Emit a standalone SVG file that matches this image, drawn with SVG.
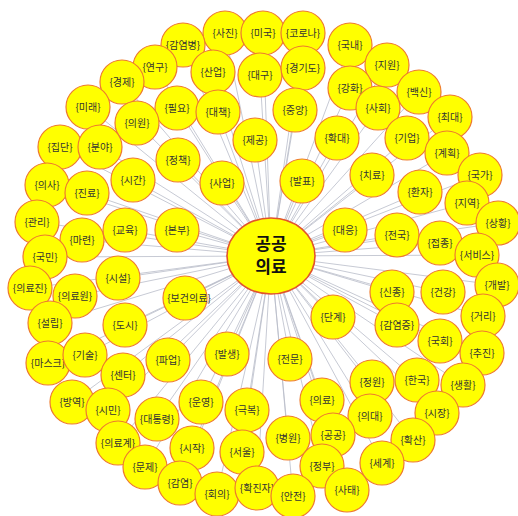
<svg xmlns="http://www.w3.org/2000/svg" width="518" height="516" viewBox="0 0 518 516">
<style>
.e{stroke:#b9bdc9;stroke-width:0.8}
.n circle{fill:#ffff00;stroke:#ee7a2e;stroke-width:1.2}
.n text{font-family:"Noto Sans CJK KR","Noto Sans",sans-serif;font-size:10px;fill:#333;text-anchor:middle}
.c ellipse{fill:#ffff00;stroke:#e2542a;stroke-width:1.6}
.c text{font-family:"Noto Sans CJK KR","Noto Sans",sans-serif;font-size:17px;font-weight:bold;fill:#111;text-anchor:middle}
</style>
<rect width="518" height="516" fill="#ffffff"/>
<g id="connectors">
<line class="e" x1="271" y1="256" x2="225" y2="33"/><line class="e" x1="271" y1="256" x2="263" y2="33"/><line class="e" x1="271" y1="256" x2="303" y2="33"/><line class="e" x1="271" y1="256" x2="183" y2="45"/><line class="e" x1="271" y1="256" x2="350" y2="45"/><line class="e" x1="271" y1="256" x2="155" y2="67"/><line class="e" x1="271" y1="256" x2="387" y2="65"/><line class="e" x1="271" y1="256" x2="122" y2="82"/><line class="e" x1="271" y1="256" x2="213" y2="72"/><line class="e" x1="271" y1="256" x2="260" y2="75"/><line class="e" x1="271" y1="256" x2="303" y2="68"/><line class="e" x1="271" y1="256" x2="350" y2="88"/><line class="e" x1="271" y1="256" x2="419" y2="92"/><line class="e" x1="271" y1="256" x2="88" y2="107"/><line class="e" x1="271" y1="256" x2="177" y2="108"/><line class="e" x1="271" y1="256" x2="218" y2="112"/><line class="e" x1="271" y1="256" x2="295" y2="110"/><line class="e" x1="271" y1="256" x2="378" y2="108"/><line class="e" x1="271" y1="256" x2="450" y2="117"/><line class="e" x1="271" y1="256" x2="137" y2="123"/><line class="e" x1="271" y1="256" x2="255" y2="140"/><line class="e" x1="271" y1="256" x2="337" y2="138"/><line class="e" x1="271" y1="256" x2="407" y2="138"/><line class="e" x1="271" y1="256" x2="60" y2="147"/><line class="e" x1="271" y1="256" x2="100" y2="147"/><line class="e" x1="271" y1="256" x2="178" y2="160"/><line class="e" x1="271" y1="256" x2="447" y2="153"/><line class="e" x1="271" y1="256" x2="480" y2="175"/><line class="e" x1="271" y1="256" x2="47" y2="185"/><line class="e" x1="271" y1="256" x2="87" y2="193"/><line class="e" x1="271" y1="256" x2="133" y2="180"/><line class="e" x1="271" y1="256" x2="222" y2="183"/><line class="e" x1="271" y1="256" x2="302" y2="181"/><line class="e" x1="271" y1="256" x2="372" y2="175"/><line class="e" x1="271" y1="256" x2="420" y2="192"/><line class="e" x1="271" y1="256" x2="467" y2="203"/><line class="e" x1="271" y1="256" x2="498" y2="223"/><line class="e" x1="271" y1="256" x2="37" y2="222"/><line class="e" x1="271" y1="256" x2="82" y2="240"/><line class="e" x1="271" y1="256" x2="125" y2="230"/><line class="e" x1="271" y1="256" x2="177" y2="230"/><line class="e" x1="271" y1="256" x2="345" y2="230"/><line class="e" x1="271" y1="256" x2="397" y2="235"/><line class="e" x1="271" y1="256" x2="440" y2="243"/><line class="e" x1="271" y1="256" x2="477" y2="255"/><line class="e" x1="271" y1="256" x2="45" y2="257"/><line class="e" x1="271" y1="256" x2="118" y2="278"/><line class="e" x1="271" y1="256" x2="497" y2="285"/><line class="e" x1="271" y1="256" x2="30" y2="288"/><line class="e" x1="271" y1="256" x2="75" y2="296"/><line class="e" x1="271" y1="256" x2="185" y2="298"/><line class="e" x1="271" y1="256" x2="392" y2="292"/><line class="e" x1="271" y1="256" x2="443" y2="292"/><line class="e" x1="271" y1="256" x2="333" y2="317"/><line class="e" x1="271" y1="256" x2="483" y2="316"/><line class="e" x1="271" y1="256" x2="50" y2="323"/><line class="e" x1="271" y1="256" x2="125" y2="325"/><line class="e" x1="271" y1="256" x2="397" y2="325"/><line class="e" x1="271" y1="256" x2="440" y2="341"/><line class="e" x1="271" y1="256" x2="48" y2="363"/><line class="e" x1="271" y1="256" x2="85" y2="355"/><line class="e" x1="271" y1="256" x2="123" y2="375"/><line class="e" x1="271" y1="256" x2="168" y2="360"/><line class="e" x1="271" y1="256" x2="227" y2="354"/><line class="e" x1="271" y1="256" x2="290" y2="359"/><line class="e" x1="271" y1="256" x2="482" y2="353"/><line class="e" x1="271" y1="256" x2="372" y2="382"/><line class="e" x1="271" y1="256" x2="417" y2="380"/><line class="e" x1="271" y1="256" x2="322" y2="400"/><line class="e" x1="271" y1="256" x2="463" y2="385"/><line class="e" x1="271" y1="256" x2="72" y2="402"/><line class="e" x1="271" y1="256" x2="108" y2="410"/><line class="e" x1="271" y1="256" x2="157" y2="419"/><line class="e" x1="271" y1="256" x2="201" y2="402"/><line class="e" x1="271" y1="256" x2="247" y2="410"/><line class="e" x1="271" y1="256" x2="370" y2="416"/><line class="e" x1="271" y1="256" x2="437" y2="413"/><line class="e" x1="271" y1="256" x2="118" y2="443"/><line class="e" x1="271" y1="256" x2="192" y2="448"/><line class="e" x1="271" y1="256" x2="242" y2="452"/><line class="e" x1="271" y1="256" x2="288" y2="438"/><line class="e" x1="271" y1="256" x2="333" y2="435"/><line class="e" x1="271" y1="256" x2="413" y2="440"/><line class="e" x1="271" y1="256" x2="145" y2="467"/><line class="e" x1="271" y1="256" x2="322" y2="466"/><line class="e" x1="271" y1="256" x2="180" y2="483"/><line class="e" x1="271" y1="256" x2="217" y2="494"/><line class="e" x1="271" y1="256" x2="257" y2="488"/><line class="e" x1="271" y1="256" x2="293" y2="496"/><line class="e" x1="271" y1="256" x2="347" y2="490"/><line class="e" x1="271" y1="256" x2="382" y2="463"/>
</g>
<g id="n1" class="n"><circle cx="225" cy="33" r="22"/><text x="225" y="37">{사진}</text></g>
<g id="n2" class="n"><circle cx="263" cy="33" r="22"/><text x="263" y="37">{미국}</text></g>
<g id="n3" class="n"><circle cx="303" cy="33" r="22"/><text x="303" y="37">{코로나}</text></g>
<g id="n4" class="n"><circle cx="183" cy="45" r="22"/><text x="183" y="49">{감염병}</text></g>
<g id="n5" class="n"><circle cx="350" cy="45" r="22"/><text x="350" y="49">{국내}</text></g>
<g id="n6" class="n"><circle cx="155" cy="67" r="22"/><text x="155" y="71">{연구}</text></g>
<g id="n7" class="n"><circle cx="387" cy="65" r="22"/><text x="387" y="69">{지원}</text></g>
<g id="n8" class="n"><circle cx="122" cy="82" r="22"/><text x="122" y="86">{경제}</text></g>
<g id="n9" class="n"><circle cx="213" cy="72" r="22"/><text x="213" y="76">{산업}</text></g>
<g id="n10" class="n"><circle cx="260" cy="75" r="22"/><text x="260" y="79">{대구}</text></g>
<g id="n11" class="n"><circle cx="303" cy="68" r="22"/><text x="303" y="72">{경기도}</text></g>
<g id="n12" class="n"><circle cx="350" cy="88" r="22"/><text x="350" y="92">{강화}</text></g>
<g id="n13" class="n"><circle cx="419" cy="92" r="22"/><text x="419" y="96">{백신}</text></g>
<g id="n14" class="n"><circle cx="88" cy="107" r="22"/><text x="88" y="111">{미래}</text></g>
<g id="n15" class="n"><circle cx="177" cy="108" r="22"/><text x="177" y="112">{필요}</text></g>
<g id="n16" class="n"><circle cx="218" cy="112" r="22"/><text x="218" y="116">{대책}</text></g>
<g id="n17" class="n"><circle cx="295" cy="110" r="22"/><text x="295" y="114">{중앙}</text></g>
<g id="n18" class="n"><circle cx="378" cy="108" r="22"/><text x="378" y="112">{사회}</text></g>
<g id="n19" class="n"><circle cx="450" cy="117" r="22"/><text x="450" y="121">{최대}</text></g>
<g id="n20" class="n"><circle cx="137" cy="123" r="22"/><text x="137" y="127">{의원}</text></g>
<g id="n21" class="n"><circle cx="255" cy="140" r="22"/><text x="255" y="144">{제공}</text></g>
<g id="n22" class="n"><circle cx="337" cy="138" r="22"/><text x="337" y="142">{확대}</text></g>
<g id="n23" class="n"><circle cx="407" cy="138" r="22"/><text x="407" y="142">{기업}</text></g>
<g id="n24" class="n"><circle cx="60" cy="147" r="22"/><text x="60" y="151">{집단}</text></g>
<g id="n25" class="n"><circle cx="100" cy="147" r="22"/><text x="100" y="151">{분야}</text></g>
<g id="n26" class="n"><circle cx="178" cy="160" r="22"/><text x="178" y="164">{정책}</text></g>
<g id="n27" class="n"><circle cx="447" cy="153" r="22"/><text x="447" y="157">{계획}</text></g>
<g id="n28" class="n"><circle cx="480" cy="175" r="22"/><text x="480" y="179">{국가}</text></g>
<g id="n29" class="n"><circle cx="47" cy="185" r="22"/><text x="47" y="189">{의사}</text></g>
<g id="n30" class="n"><circle cx="87" cy="193" r="22"/><text x="87" y="197">{진료}</text></g>
<g id="n31" class="n"><circle cx="133" cy="180" r="22"/><text x="133" y="184">{시간}</text></g>
<g id="n32" class="n"><circle cx="222" cy="183" r="22"/><text x="222" y="187">{사업}</text></g>
<g id="n33" class="n"><circle cx="302" cy="181" r="22"/><text x="302" y="185">{발표}</text></g>
<g id="n34" class="n"><circle cx="372" cy="175" r="22"/><text x="372" y="179">{치료}</text></g>
<g id="n35" class="n"><circle cx="420" cy="192" r="22"/><text x="420" y="196">{환자}</text></g>
<g id="n36" class="n"><circle cx="467" cy="203" r="22"/><text x="467" y="207">{지역}</text></g>
<g id="n37" class="n"><circle cx="498" cy="223" r="22"/><text x="498" y="227">{상황}</text></g>
<g id="n38" class="n"><circle cx="37" cy="222" r="22"/><text x="37" y="226">{관리}</text></g>
<g id="n39" class="n"><circle cx="82" cy="240" r="22"/><text x="82" y="244">{마련}</text></g>
<g id="n40" class="n"><circle cx="125" cy="230" r="22"/><text x="125" y="234">{교육}</text></g>
<g id="n41" class="n"><circle cx="177" cy="230" r="22"/><text x="177" y="234">{본부}</text></g>
<g id="n42" class="n"><circle cx="345" cy="230" r="22"/><text x="345" y="234">{대응}</text></g>
<g id="n43" class="n"><circle cx="397" cy="235" r="22"/><text x="397" y="239">{전국}</text></g>
<g id="n44" class="n"><circle cx="440" cy="243" r="22"/><text x="440" y="247">{접종}</text></g>
<g id="n45" class="n"><circle cx="477" cy="255" r="22"/><text x="477" y="259">{서비스}</text></g>
<g id="n46" class="n"><circle cx="45" cy="257" r="22"/><text x="45" y="261">{국민}</text></g>
<g id="n47" class="n"><circle cx="118" cy="278" r="22"/><text x="118" y="282">{시설}</text></g>
<g id="n48" class="n"><circle cx="497" cy="285" r="22"/><text x="497" y="289">{개발}</text></g>
<g id="n49" class="n"><circle cx="30" cy="288" r="22"/><text x="30" y="292">{의료진}</text></g>
<g id="n50" class="n"><circle cx="75" cy="296" r="22"/><text x="75" y="300">{의료원}</text></g>
<g id="n51" class="n"><circle cx="185" cy="298" r="22"/><text x="189" y="302">{보건의료}</text></g>
<g id="n52" class="n"><circle cx="392" cy="292" r="22"/><text x="392" y="296">{신종}</text></g>
<g id="n53" class="n"><circle cx="443" cy="292" r="22"/><text x="443" y="296">{건강}</text></g>
<g id="n54" class="n"><circle cx="333" cy="317" r="22"/><text x="333" y="321">{단계}</text></g>
<g id="n55" class="n"><circle cx="483" cy="316" r="22"/><text x="483" y="320">{거리}</text></g>
<g id="n56" class="n"><circle cx="50" cy="323" r="22"/><text x="50" y="327">{설립}</text></g>
<g id="n57" class="n"><circle cx="125" cy="325" r="22"/><text x="125" y="329">{도시}</text></g>
<g id="n58" class="n"><circle cx="397" cy="325" r="22"/><text x="397" y="329">{감염증}</text></g>
<g id="n59" class="n"><circle cx="440" cy="341" r="22"/><text x="440" y="345">{국회}</text></g>
<g id="n60" class="n"><circle cx="48" cy="363" r="22"/><text x="48" y="367">{마스크}</text></g>
<g id="n61" class="n"><circle cx="85" cy="355" r="22"/><text x="85" y="359">{기술}</text></g>
<g id="n62" class="n"><circle cx="123" cy="375" r="22"/><text x="123" y="379">{센터}</text></g>
<g id="n63" class="n"><circle cx="168" cy="360" r="22"/><text x="168" y="364">{파업}</text></g>
<g id="n64" class="n"><circle cx="227" cy="354" r="22"/><text x="227" y="358">{발생}</text></g>
<g id="n65" class="n"><circle cx="290" cy="359" r="22"/><text x="290" y="363">{전문}</text></g>
<g id="n66" class="n"><circle cx="482" cy="353" r="22"/><text x="482" y="357">{추진}</text></g>
<g id="n67" class="n"><circle cx="372" cy="382" r="22"/><text x="372" y="386">{정원}</text></g>
<g id="n68" class="n"><circle cx="417" cy="380" r="22"/><text x="417" y="384">{한국}</text></g>
<g id="n69" class="n"><circle cx="322" cy="400" r="22"/><text x="322" y="404">{의료}</text></g>
<g id="n70" class="n"><circle cx="463" cy="385" r="22"/><text x="463" y="389">{생활}</text></g>
<g id="n71" class="n"><circle cx="72" cy="402" r="22"/><text x="72" y="406">{방역}</text></g>
<g id="n72" class="n"><circle cx="108" cy="410" r="22"/><text x="108" y="414">{시민}</text></g>
<g id="n73" class="n"><circle cx="157" cy="419" r="22"/><text x="157" y="423">{대통령}</text></g>
<g id="n74" class="n"><circle cx="201" cy="402" r="22"/><text x="201" y="406">{운영}</text></g>
<g id="n75" class="n"><circle cx="247" cy="410" r="22"/><text x="247" y="414">{극복}</text></g>
<g id="n76" class="n"><circle cx="370" cy="416" r="22"/><text x="370" y="420">{의대}</text></g>
<g id="n77" class="n"><circle cx="437" cy="413" r="22"/><text x="437" y="417">{시장}</text></g>
<g id="n78" class="n"><circle cx="118" cy="443" r="22"/><text x="118" y="447">{의료계}</text></g>
<g id="n79" class="n"><circle cx="192" cy="448" r="22"/><text x="192" y="452">{시작}</text></g>
<g id="n80" class="n"><circle cx="242" cy="452" r="22"/><text x="242" y="456">{서울}</text></g>
<g id="n81" class="n"><circle cx="288" cy="438" r="22"/><text x="288" y="442">{병원}</text></g>
<g id="n82" class="n"><circle cx="333" cy="435" r="22"/><text x="333" y="439">{공공}</text></g>
<g id="n83" class="n"><circle cx="413" cy="440" r="22"/><text x="413" y="444">{확산}</text></g>
<g id="n84" class="n"><circle cx="145" cy="467" r="22"/><text x="145" y="471">{문제}</text></g>
<g id="n85" class="n"><circle cx="322" cy="466" r="22"/><text x="322" y="470">{정부}</text></g>
<g id="n86" class="n"><circle cx="180" cy="483" r="22"/><text x="180" y="487">{감염}</text></g>
<g id="n87" class="n"><circle cx="217" cy="494" r="22"/><text x="217" y="498">{회의}</text></g>
<g id="n88" class="n"><circle cx="257" cy="488" r="22"/><text x="257" y="492">{확진자}</text></g>
<g id="n89" class="n"><circle cx="293" cy="496" r="22"/><text x="293" y="500">{안전}</text></g>
<g id="n90" class="n"><circle cx="347" cy="490" r="22"/><text x="347" y="494">{사태}</text></g>
<g id="n91" class="n"><circle cx="382" cy="463" r="22"/><text x="382" y="467">{세계}</text></g>
<g id="center" class="c"><ellipse cx="271" cy="256" rx="44" ry="38"/><text x="271" y="250">공공</text><text x="271" y="273">의료</text></g>
</svg>
